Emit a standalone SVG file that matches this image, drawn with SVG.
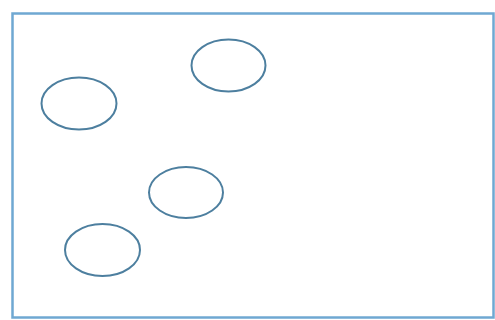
<svg xmlns="http://www.w3.org/2000/svg" width="495" height="320" viewBox="0 0 495 320">
<style>
.frame{fill:#ffffff;stroke:#6fa8d2;stroke-width:2.5}
.node{fill:none;stroke:#4d7f9f;stroke-width:2}
</style>
<rect width="495" height="320" fill="#ffffff"/>
<g id="frame"><rect class="frame" x="12.5" y="13.5" width="481" height="304"/></g>
<g id="node1"><ellipse class="node" cx="228.5" cy="65.5" rx="37" ry="26"/></g>
<g id="node2"><ellipse class="node" cx="79" cy="103.5" rx="37.5" ry="26"/></g>
<g id="node3"><ellipse class="node" cx="186" cy="192.5" rx="37" ry="25.5"/></g>
<g id="node4"><ellipse class="node" cx="102.5" cy="250" rx="37.5" ry="26"/></g>
<g id="connectors"></g>
</svg>
